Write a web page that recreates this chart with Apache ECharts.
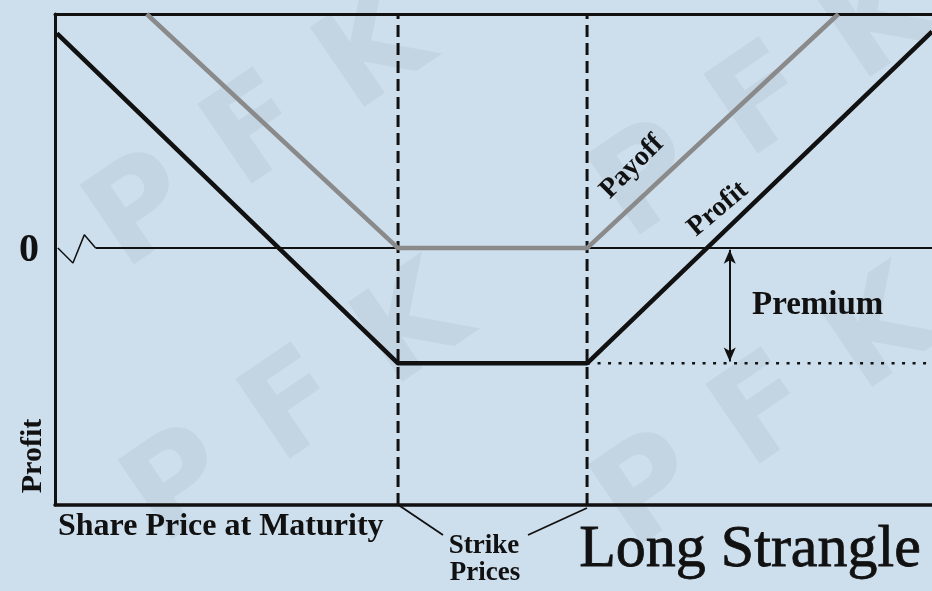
<!DOCTYPE html>
<html>
<head>
<meta charset="utf-8">
<script src="https://cdn.jsdelivr.net/npm/echarts@6/dist/echarts.min.js"></script>
<style>
  html, body { margin: 0; padding: 0; background: #cddeec; }
  #chart { width: 932px; height: 591px; }
</style>
</head>
<body>
<div id="chart"></div>
<script>
// strike prices and premium (axis units)
const strikes = [40, 60]
const premium = 13.1
const xRange = [3.7, 96.5]
const yRange = [-29.2, 26.6]

// payoff (gray) and profit (black) polylines
const payoffLine = [[13.4, 26.6], [40, 0], [60, 0], [86.6, 26.6]]
const profitLine = [[3.9, 24.4], [40, -13.1], [60, -13.1], [96.5, 24.6]]

// zero line with the axis-break zigzag at its start
const zigzag = [[4.0, 0], [5.6, -1.7], [6.8, 1.5], [8.0, 0]]
const zeroLine = [[8.0, 0], [96.5, 0]]

const premiumX = 75.1

const chart = echarts.init(document.getElementById('chart'))

const serif = '"Liberation Serif"'
const ink = '#111'
const mark = '#c3d4e3'

function wm(x, y) {
  return {
    type: 'text', x: x, y: y, rotation: 0.6, z: 0, silent: true,
    style: {text: 'P F K', font: 'bold 132px "DejaVu Sans"', fill: mark, align: 'center', verticalAlign: 'middle'}
  }
}

let option = {
  backgroundColor: '#cddeec',
  animation: false,
  grid: {left: 55, top: 14, right: 0, bottom: 86},
  xAxis: [
    {
      type: 'value', min: xRange[0], max: xRange[1],
      axisLine: {show: true, onZero: false, lineStyle: {color: ink, width: 3.5}},
      axisTick: {show: false}, axisLabel: {show: false}, splitLine: {show: false}
    },
    {
      type: 'value', position: 'top', min: xRange[0], max: xRange[1],
      axisLine: {show: true, onZero: false, lineStyle: {color: ink, width: 3}},
      axisTick: {show: false}, axisLabel: {show: false}, splitLine: {show: false}
    }
  ],
  yAxis: {
    type: 'value', min: yRange[0], max: yRange[1],
    axisLine: {show: true, onZero: false, lineStyle: {color: ink, width: 3}},
    axisTick: {show: false}, axisLabel: {show: false}, splitLine: {show: false}
  },
  series: [
    {
      type: 'line', data: zigzag, symbol: 'none',
      lineStyle: {color: ink, width: 1.5}
    },
    {
      type: 'line', data: zeroLine, symbol: 'none',
      lineStyle: {color: ink, width: 2}
    },
    {
      type: 'line', data: [[strikes[0], yRange[0]], [strikes[0], yRange[1]]], symbol: 'none',
      lineStyle: {color: ink, width: 3, type: [12, 6]}
    },
    {
      type: 'line', data: [[strikes[1], yRange[0]], [strikes[1], yRange[1]]], symbol: 'none',
      lineStyle: {color: ink, width: 3, type: [12, 6]}
    },
    {
      type: 'line', data: [[strikes[1], -premium], [xRange[1], -premium]], symbol: 'none',
      lineStyle: {color: ink, width: 2.5, type: [3, 7.5]}
    },
    {
      type: 'line', data: payoffLine, symbol: 'none',
      lineStyle: {color: '#8a8a8a', width: 4.5}
    },
    {
      type: 'line', data: profitLine, symbol: 'none',
      lineStyle: {color: ink, width: 4.5},
      markLine: {
        silent: true,
        symbol: ['arrow', 'arrow'],
        symbolSize: [9, 14],
        label: {show: false},
        lineStyle: {color: ink, width: 2, type: 'solid'},
        data: [[{coord: [premiumX, -0.2]}, {coord: [premiumX, -premium + 0.2]}]]
      }
    }
  ],
  graphic: [
    // watermark
    wm(262, 135), wm(768, 105), wm(300, 410), wm(770, 415),
    // labels
    {type: 'text', x: 29, y: 251, style: {text: '0', font: 'bold 40px ' + serif, fill: ink, align: 'center', verticalAlign: 'middle'}},
    {type: 'text', x: 33, y: 456, rotation: Math.PI / 2, style: {text: 'Profit', font: 'bold 30px ' + serif, fill: ink, align: 'center', verticalAlign: 'middle'}},
    {type: 'text', x: 58, y: 527, style: {text: 'Share Price at Maturity', font: 'bold 32px ' + serif, fill: ink, align: 'left', verticalAlign: 'middle'}},
    {type: 'text', x: 484, y: 546, style: {text: 'Strike', font: 'bold 27px ' + serif, fill: ink, align: 'center', verticalAlign: 'middle'}},
    {type: 'text', x: 485, y: 573, style: {text: 'Prices', font: 'bold 27px ' + serif, fill: ink, align: 'center', verticalAlign: 'middle'}},
    {type: 'line', shape: {x1: 397, y1: 504, x2: 443, y2: 535}, style: {stroke: ink, lineWidth: 1.8}},
    {type: 'line', shape: {x1: 587, y1: 508, x2: 528, y2: 535}, style: {stroke: ink, lineWidth: 1.8}},
    {type: 'text', x: 752, y: 305, style: {text: 'Premium', font: 'bold 33px ' + serif, fill: ink, align: 'left', verticalAlign: 'middle'}},
    {type: 'text', x: 632, y: 167, rotation: Math.PI / 4, style: {text: 'Payoff', font: 'bold 28px ' + serif, fill: ink, align: 'center', verticalAlign: 'middle'}},
    {type: 'text', x: 718, y: 209, rotation: 0.7, style: {text: 'Profit', font: 'bold 28px ' + serif, fill: ink, align: 'center', verticalAlign: 'middle'}},
    {type: 'text', x: 750, y: 550, style: {text: 'Long Strangle', font: '60px ' + serif, fill: ink, align: 'center', verticalAlign: 'middle', stroke: ink, lineWidth: 0.8}}
  ]
}

option && chart.setOption(option)
</script>
</body>
</html>
